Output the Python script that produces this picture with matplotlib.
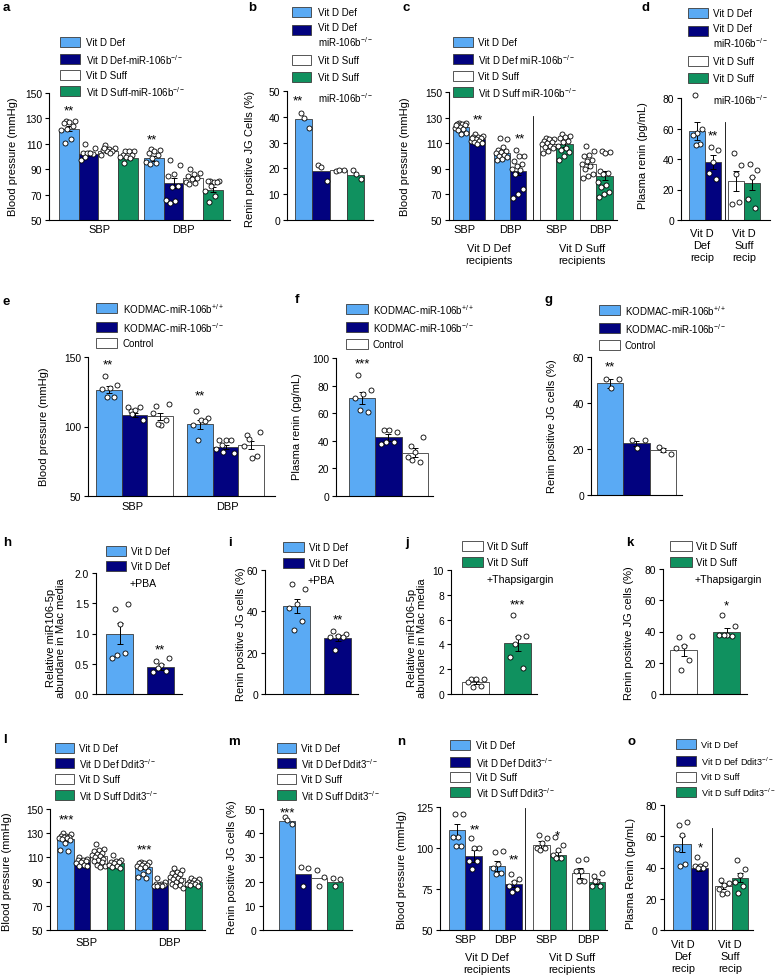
import numpy as np
import matplotlib
matplotlib.use('Agg')
import matplotlib.pyplot as plt
from matplotlib.patches import Rectangle
from matplotlib.ticker import FormatStrFormatter

plt.rcParams['font.family'] = ['Liberation Sans', 'DejaVu Sans']
plt.rcParams['mathtext.fontset'] = 'custom'
plt.rcParams['mathtext.rm'] = 'Liberation Sans'
plt.rcParams['mathtext.it'] = 'Liberation Sans:italic'

W, H = 779, 978
LB, NV, WH, GR = '#5AAAF4', '#02027F', '#FFFFFF', '#10915F'
EDGE = '#3a3a3a'
KO = '$^{-/-}$'

# ---- data ----
a_means = [122, 102, 104, 99, 98.5, 79, 83, 74]
a_sem = [2, 1, 1, 1, 2, 4, 1.5, 2]
a_pts = [[128, 128, 127, 126, 124, 122, 121, 114, 111],
         [110, 107, 103, 103, 102, 103, 97, 103, 100],
         [109, 107, 106, 105, 104, 104, 101, 103, 107],
         [104, 104, 104, 101, 101, 100, 100, 99, 95],
         [106, 105, 104, 103, 101, 99, 96, 95, 94],
         [97, 93, 86, 85, 77, 76, 66, 65, 63],
         [90, 87, 86, 85, 83, 82, 80, 79, 78],
         [81, 81, 80, 81, 80, 77, 73, 69, 64]]

b_means = [39, 19, 19.5, 17.5]
b_pts = [[41.5, 35.5, 39.5], [21.5, 15, 20.5], [19, 19.5, 19.5], [19.5, 16, 18]]

c_means = [123, 113, 102.5, 88.5, 109.5, 109, 93.5, 84.5]
c_sem = [1.5, 1, 1.5, 3.5, 1, 2, 2.5, 3.5]
c_pts = [[126, 126, 125, 125, 124, 123, 122, 121, 120, 118, 117, 124],
         [117, 116, 115, 115, 114, 113, 112, 112, 111, 110, 109, 114],
         [114, 113, 107, 105, 104, 103, 102, 101, 100, 99, 98, 97],
         [105, 100, 100, 96, 94, 92, 90, 89, 86, 74, 70, 67],
         [114, 113, 113, 112, 111, 110, 109, 108, 107, 106, 104, 102],
         [117, 116, 115, 114, 112, 111, 108, 106, 105, 103, 100, 97],
         [108, 104, 101, 100, 97, 96, 94, 92, 90, 86, 84, 83],
         [104, 103, 102, 88, 87, 86, 80, 77, 76, 72, 70, 68]]

d_means = [58.5, 38, 25.5, 24]
d_sem = [6, 4.5, 6.5, 4.5]
d_pts = [[82, 60, 57, 56, 50, 49], [48, 46, 38, 31, 27],
         [44, 36, 30, 10.5, 12], [37, 33, 28, 14, 8]]

e_means = [126.5, 108.5, 107.5, 101.5, 85, 86.5]
e_sem = [2.5, 1.5, 2.5, 3, 1.5, 3]
e_pts = [[136, 130, 128, 127, 121, 121], [111, 105, 112, 114, 114, 109],
         [115, 116, 101, 110, 105, 102], [111, 106, 105, 101, 104, 90],
         [87, 81, 90, 90, 90, 82, 84], [94, 96, 77, 86, 79, 91]]

f_means = [71, 42.5, 31.5]
f_sem = [4.5, 2.5, 3]
f_pts = [[88, 77, 74, 71, 61, 62], [47.5, 46.5, 47.5, 38, 39, 39],
         [36, 43, 32, 28, 25, 26]]

g_means = [48.5, 22.5, 19.5]
g_sem = [2, 1, 1]
g_pts = [[50.5, 50.5, 46.5], [24, 24, 20.5], [21, 18, 19.5]]

h_means = [1.0, 0.45]
h_sem = [0.17, 0.05]
h_pts = [[1.41, 1.49, 1.16, 0.6, 0.67, 0.65], [0.54, 0.6, 0.48, 0.36, 0.38, 0.43]]

i_means = [42.5, 27]
i_sem = [3.5, 1.5]
i_pts = [[53, 51, 43.5, 41.5, 35.5, 31], [30.5, 29, 28, 27.5, 27.5, 21.5]]

j_means = [0.95, 4.1]
j_sem = [0.12, 0.6]
j_pts = [[1.25, 1.2, 1.2, 1.0, 0.65, 0.6], [6.4, 4.7, 4.6, 3.0, 2.1, 4.0]]

k_means = [28, 40]
k_sem = [3.5, 2.5]
k_pts = [[36.5, 37, 31, 29.5, 22, 15.5], [50.5, 43.5, 37.5, 38, 37, 37.5]]

l_means = [125, 106.5, 111, 105.5, 102, 87, 93, 89.5]
l_sem = [1.5, 1, 1.3, 1, 1.3, 0.7, 1, 0.7]
l_pts = [[130, 129, 128, 128, 127, 127, 126, 126, 125, 124, 122, 116, 115],
         [110, 109, 108, 108, 107, 106, 105, 104, 103, 103],
         [121, 117, 116, 115, 114, 113, 112, 111, 110, 109, 108, 107, 106, 104, 103, 102],
         [112, 108, 107, 106, 106, 105, 104, 103, 102, 101],
         [106, 106, 105, 105, 104, 104, 103, 102, 101, 99, 96, 94, 93],
         [93, 90, 88, 88, 87, 87, 86, 86, 86],
         [101, 100, 98, 97, 96, 95, 94, 93, 92, 91, 90, 88, 87, 86, 85],
         [93, 92, 91, 90, 90, 89, 88, 88, 87, 86]]

m_means = [45, 23, 21.5, 20]
m_pts = [[46.5, 44, 45.3], [26, 25.5, 18], [25, 22, 18], [21.5, 21, 18]]

n_means = [111, 95, 89, 78, 102, 95.5, 85, 79.5]
n_sem = [3.5, 3.5, 3, 2, 2, 2, 3, 1.5]
n_pts = [[120.5, 120.5, 107, 107, 101.5, 101.5], [106, 100, 100, 92, 92, 87],
         [97.5, 98, 90, 88, 85, 84], [84, 81, 79, 77, 75, 73],
         [108, 106, 103, 100, 100, 99], [107, 102, 99, 96, 94, 94],
         [92.5, 93, 86, 86, 80, 80], [83, 85, 80, 77, 77, 80]]

o_means = [55, 39.5, 28, 33.5]
o_sem = [5, 2, 2, 3]
o_pts = [[67, 69, 61, 52, 42, 41], [46.5, 42, 41, 41, 40, 40],
         [32, 30, 28.5, 26.5, 24, 23], [45, 39, 35, 31, 28, 23.5]]

miR4 = ['Vit D Def', 'Vit D Def-miR-106b' + KO, 'Vit D Suff', 'Vit D Suff-miR-106b' + KO]
miR4c = ['Vit D Def', 'Vit D Def miR-106b' + KO, 'Vit D Suff', 'Vit D Suff miR-106b' + KO]
kod3 = ['KODMAC-miR-106b$^{+/+}$', 'KODMAC-miR-106b' + KO, 'Control']
ddit4 = ['Vit D Def', 'Vit D Def Ddit3' + KO, 'Vit D Suff', 'Vit D Suff Ddit3' + KO]
bp_groups = ['SBP', 'DBP']

fig = plt.figure(figsize=(W / 100, H / 100), dpi=100)


def panel(x0, x1, y0, y1, ylim, step, fmt=None):
    ax = fig.add_axes([x0 / W, 1 - y1 / H, (x1 - x0) / W, (y1 - y0) / H])
    ax.set_xlim(x0, x1)
    ax.set_ylim(*ylim)
    ax.set_yticks(np.arange(ylim[0], ylim[1] + step / 2, step))
    if fmt:
        ax.yaxis.set_major_formatter(FormatStrFormatter(fmt))
    ax.set_xticks([])
    for s in ['top', 'right']:
        ax.spines[s].set_visible(False)
    for s in ['left', 'bottom']:
        ax.spines[s].set_linewidth(0.8)
    ax.tick_params(axis='y', length=3, width=0.8, labelsize=7.4, pad=2)
    ax.patch.set_alpha(0)
    return ax


def bars(ax, starts, w, means, colors, sems=None, pts=None, pitch=None):
    pitch = pitch or w
    centers = [s + w / 2 + i * pitch for s in starts for i in range(len(colors))]
    ax.bar(centers, means, width=w, color=colors * len(starts),
           edgecolor=EDGE, linewidth=0.6, zorder=2)
    if sems:
        ax.errorbar(centers, means, yerr=sems, fmt='none', ecolor='black',
                    elinewidth=0.7, capsize=2.2, capthick=0.7, zorder=3)
    if pts:
        for c, p in zip(centers, pts):
            off = ((np.arange(len(p)) * 0.618 + 0.3) % 1 - 0.5) * 0.78 * w
            ax.scatter(c + off, p, s=13, facecolor='white', edgecolor='black',
                       linewidth=0.6, zorder=4, clip_on=False)


# a
ax = panel(49, 230, 94, 221, (50, 150), 20)
bars(ax, [59, 144], 19.7, a_means, [LB, NV, WH, GR], a_sem, a_pts)
# b
ax = panel(287, 373, 92, 221, (0, 50), 10)
bars(ax, [295], 17.3, b_means, [LB, NV, WH, GR], None, b_pts)
# c
ax = panel(449, 617, 93, 221, (50, 150), 20)
bars(ax, [453, 494], 16.2, c_means[:4], [LB, NV], c_sem[:4], c_pts[:4])
bars(ax, [540, 580], 16.4, c_means[4:], [WH, GR], c_sem[4:], c_pts[4:])
ax.axvline(533, ymin=0, ymax=0.81, color='black', lw=0.6)
# d
ax = panel(681, 770, 99, 221, (0, 80), 20)
bars(ax, [689], 16, d_means[:2], [LB, NV], d_sem[:2], d_pts[:2])
bars(ax, [728], 16, d_means[2:], [WH, GR], d_sem[2:], d_pts[2:])
ax.axvline(725, ymin=0, ymax=0.80, color='black', lw=0.6)
# e
ax = panel(88, 275, 358, 497, (50, 150), 50)
bars(ax, [96, 187], 25.7, e_means, [LB, NV, WH], e_sem, e_pts)
# f
ax = panel(336, 433, 359, 497, (0, 100), 20)
bars(ax, [349], 26.3, f_means, [LB, NV, WH], f_sem, f_pts)
# g
ax = panel(591, 682, 358, 496, (0, 60), 20)
bars(ax, [597], 26.3, g_means, [LB, NV, WH], g_sem, g_pts)
# h
ax = panel(96, 182, 574, 695, (0, 2.0), 0.5, '%.1f')
bars(ax, [106], 27, h_means, [LB, NV], h_sem, h_pts, pitch=41)
# i
ax = panel(265, 358, 571, 695, (0, 60), 20)
bars(ax, [283], 27, i_means, [LB, NV], i_sem, i_pts, pitch=41)
# j
ax = panel(451, 537, 571, 695, (0, 10), 2)
bars(ax, [462], 27, j_means, [WH, GR], j_sem, j_pts, pitch=42)
# k
ax = panel(663, 747, 570, 695, (0, 80), 20)
bars(ax, [670], 27, k_means, [WH, GR], k_sem, k_pts, pitch=43)
# l
ax = panel(50, 205, 810, 931, (50, 150), 20)
bars(ax, [57, 135], 16.7, l_means, [LB, NV, WH, GR], l_sem, l_pts)
# m
ax = panel(263, 352, 810, 931, (0, 50), 10)
bars(ax, [279], 16, m_means, [LB, NV, WH, GR], None, m_pts)
# n
ax = panel(440, 607, 808, 931, (50, 125), 25)
bars(ax, [449, 489], 16.5, n_means[:4], [LB, NV], n_sem[:4], n_pts[:4])
bars(ax, [533, 572], 16.5, n_means[4:], [WH, GR], n_sem[4:], n_pts[4:])
ax.axvline(525, ymin=0, ymax=0.99, color='black', lw=0.6)
# o
ax = panel(664, 753, 806, 931, (0, 80), 20)
bars(ax, [673], 17.5, o_means[:2], [LB, NV], o_sem[:2], o_pts[:2])
bars(ax, [715], 16.5, o_means[2:], [WH, GR], o_sem[2:], o_pts[2:])
ax.axvline(712, ymin=0, ymax=0.82, color='black', lw=0.6)

# ---- overlay for labels and legends ----
ov = fig.add_axes([0, 0, 1, 1])
ov.set_xlim(0, W)
ov.set_ylim(H, 0)
ov.axis('off')
ov.patch.set_alpha(0)


def txt(x, y, s, size=7.9, **kw):
    kw.setdefault('ha', 'center')
    kw.setdefault('va', 'center')
    ov.text(x, y, s, fontsize=size, **kw)


def legend(x0, x1, rows, labels, colors, tx, ty=None, size=7.0):
    ty = ty or rows
    for y, t, lab, c in zip(rows, ty, labels, colors):
        ov.add_patch(Rectangle((x0, y - 5), x1 - x0, 10, facecolor=c,
                               edgecolor=EDGE, lw=0.6))
        txt(tx, t, lab, size, ha='left', va='center', linespacing=1.2)


# panel letters
for lab, x, y in [('a', 3, 8), ('b', 248, 8), ('c', 403, 8), ('d', 642, 8),
                  ('e', 3, 302), ('f', 295, 300), ('g', 545, 300),
                  ('h', 3, 543), ('i', 228, 543), ('j', 405, 543), ('k', 626, 543),
                  ('l', 3, 740), ('m', 228, 742), ('n', 397, 742), ('o', 628, 742)]:
    txt(x, y, lab, 9.5, ha='left', weight='bold')

# y labels
for x, y, s in [(13, 157, 'Blood pressure (mmHg)'), (250, 159, 'Renin positive JG Cells (%)'),
                (405, 157, 'Blood pressure (mmHg)'), (643, 156, 'Plasma renin (pg/mL)'),
                (44, 427, 'Blood pressure (mmHg)'), (297, 427, 'Plasma renin (pg/mL)'),
                (552, 426, 'Renin positive JG cells (%)'),
                (56, 638, 'Relative miR106-5p\nabundane in Mac media'),
                (241, 634, 'Renin positive JG cells (%)'),
                (417, 638, 'Relative miR106-5p\nabundane in Mac media'),
                (629, 633, 'Renin positive JG cells (%)'),
                (7, 872, 'Blood pressure (mmHg)'), (232, 867, 'Renin positive JG cells (%)'),
                (402, 870, 'Blood pressure (mmHg)'), (631, 873, 'Plasma Renin (pg/mL)')]:
    txt(x, y, s, 8.0, rotation=90, linespacing=1.1)

# legends
legend(60, 80, [43, 60, 76, 92], miR4, [LB, NV, WH, GR], 86)
legend(292, 311, [13, 31, 61, 78],
       ['Vit D Def', 'Vit D Def\nmiR-106b' + KO, 'Vit D Suff', 'Vit D Suff'],
       [LB, NV, WH, GR], 318, [13, 36, 61, 78])
txt(318, 98, 'miR-106b' + KO, 7.0, ha='left')
legend(453, 473, [43, 60, 77, 93], miR4c, [LB, NV, WH, GR], 478)
legend(688, 708, [14, 32, 62, 79],
       ['Vit D Def', 'Vit D Def\nmiR-106b' + KO, 'Vit D Suff', 'Vit D Suff'],
       [LB, NV, WH, GR], 713, [14, 37, 62, 79])
txt(713, 100, 'miR-106b' + KO, 7.0, ha='left')
legend(96, 117, [309, 328, 344], kod3, [LB, NV, WH], 123)
legend(346, 368, [310, 328, 345], kod3, [LB, NV, WH], 373)
legend(599, 620, [311, 329, 346], kod3, [LB, NV, WH], 625)
legend(106, 126, [552, 567], ['Vit D Def', 'Vit D Def'], [LB, NV], 131)
txt(130, 584, '+PBA', 7.6, ha='left')
legend(283, 304, [548, 564], ['Vit D Def', 'Vit D Def'], [LB, NV], 309)
txt(308, 581, '+PBA', 7.6, ha='left')
legend(462, 483, [547, 563], ['Vit D Suff', 'Vit D Suff'], [WH, GR], 487)
txt(487, 580, '+Thapsigargin', 7.6, ha='left')
legend(670, 692, [547, 563], ['Vit D Suff', 'Vit D Suff'], [WH, GR], 696)
txt(695, 580, '+Thapsigargin', 7.6, ha='left')
legend(55, 74, [749, 764, 780, 796], ddit4, [LB, NV, WH, GR], 79)
legend(277, 296, [749, 764, 780, 796], ddit4, [LB, NV, WH, GR], 301)
legend(450, 470, [746, 763, 778, 793], ddit4, [LB, NV, WH, GR], 476)
legend(676, 696, [745, 762, 778, 793], ddit4, [LB, NV, WH, GR], 701, size=6.6)

# significance stars
for x, y, s in [(69, 110, '**'), (152, 139, '**'), (298, 100, '**'),
                (478, 119, '**'), (520, 138, '**'), (713, 135, '**'),
                (108, 364, '**'), (200, 395, '**'), (362, 363, '***'), (610, 366, '**'),
                (160, 649, '**'), (338, 619, '**'), (517, 604, '***'), (726, 605, '*'),
                (66, 819, '***'), (144, 849, '***'), (287, 812, '***'),
                (475, 829, '**'), (514, 859, '**'), (557, 835, '*'), (700, 847, '*')]:
    txt(x, y + 1.5, s, 9.5)

# group labels
for x, g in zip([100, 183], bp_groups):
    txt(x, 230, g)
for x, g in zip([465, 510, 557, 600], bp_groups * 2):
    txt(x, 230, g)
txt(489, 255, 'Vit D Def\nrecipients', linespacing=1.25)
txt(582, 255, 'Vit D Suff\nrecipients', linespacing=1.25)
txt(702, 246, 'Vit D\nDef\nrecip', linespacing=1.3)
txt(744, 246, 'Vit D\nSuff\nrecip', linespacing=1.3)
for x, g in zip([133, 227], bp_groups):
    txt(x, 507, g)
for x, g in zip([87, 169], bp_groups):
    txt(x, 943, g)
for x, g in zip([466, 505, 547, 588], bp_groups * 2):
    txt(x, 940, g)
txt(487, 964, 'Vit D Def\nrecipients', linespacing=1.25)
txt(572, 964, 'Vit D Suff\nrecipients', linespacing=1.25)
txt(683, 957, 'Vit D\nDef\nrecip', linespacing=1.3)
txt(730, 957, 'Vit D\nSuff\nrecip', linespacing=1.3)

fig.savefig('out.png', dpi=100)
